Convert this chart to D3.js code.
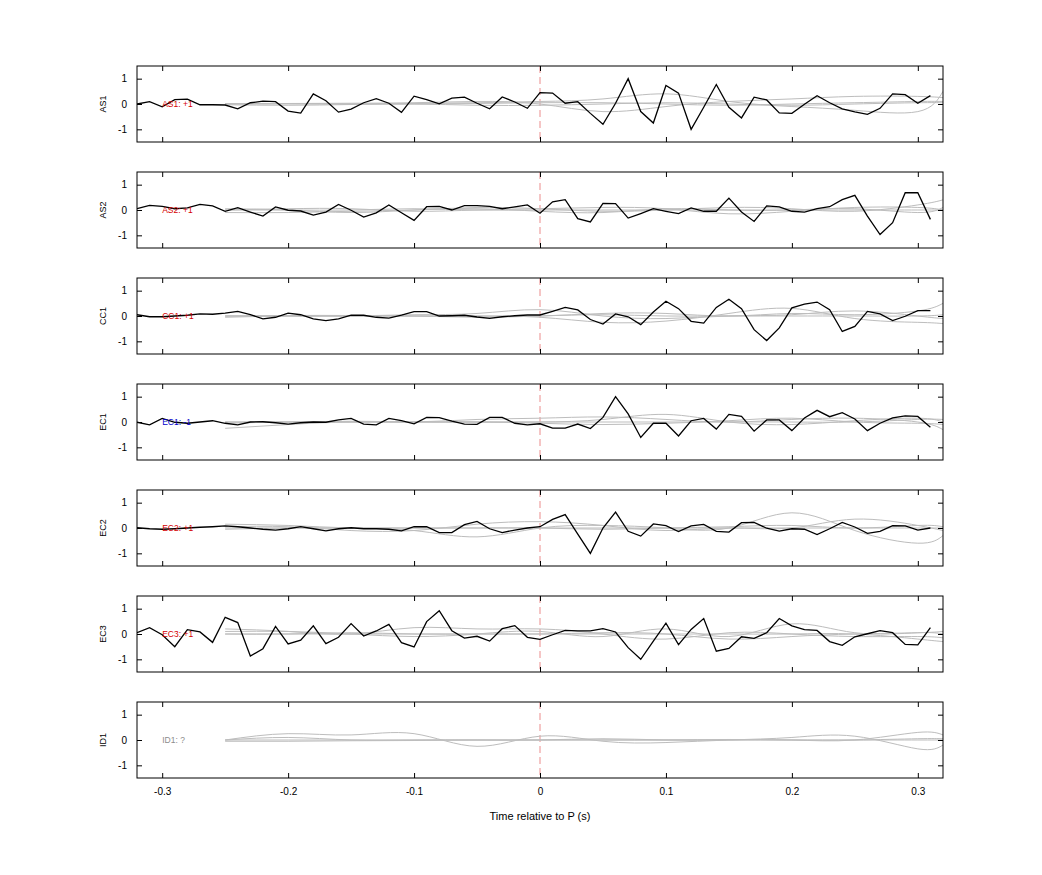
<!DOCTYPE html>
<html>
<head>
<meta charset="utf-8">
<script src="https://cdn.jsdelivr.net/npm/d3@7"></script>
<style>
  body { margin: 0; background: #fff; }
  text { font-family: "Liberation Sans", Arial, sans-serif; }
</style>
</head>
<body>
<svg id="chart" width="1042" height="875"></svg>
<script>
const stations = ['AS1', 'AS2', 'CC1', 'EC1', 'EC2', 'EC3', 'ID1'];
const polarity = ['+1', '+1', '+1', '-1', '+1', '+1', '?'];
const xTicks = [-0.3, -0.2, -0.1, 0, 0.1, 0.2, 0.3];
const yTicks = [-1, 0, 1];

// black traces: one sample every 0.01 s from -0.32 to 0.31
const traceTimes = d3.range(64).map(i => +(-0.32 + i * 0.01).toFixed(2));
const AS1 = [0,0.09,-0.11,0.17,0.19,-0.03,-0.03,-0.04,-0.19,0.05,0.11,0.09,-0.28,-0.36,0.4,0.13,-0.32,-0.2,0.05,0.21,0.03,-0.33,0.31,0.17,0.01,0.23,0.27,0.03,-0.19,0.28,0.08,-0.17,0.45,0.43,0.03,0.09,-0.37,-0.8,0.03,1.0,-0.3,-0.75,0.73,0.43,-1.0,-0.13,0.77,-0.13,-0.55,0.27,0.16,-0.35,-0.37,-0.01,0.33,0.05,-0.19,-0.31,-0.41,-0.17,0.4,0.37,0.03,0.33];
const AS2 = [.05,.18,.14,.05,.08,.22,.16,-.05,.09,-.08,-.24,.12,-.01,-.04,-.2,-.08,.22,-.01,-.28,-.11,.2,-.11,-.41,.13,.14,0,.17,.17,.14,.05,.12,.2,-.13,.32,.41,-.34,-.47,.26,.25,-.32,-.14,.05,-.05,-.14,.08,-.05,-.05,.47,-.08,-.45,.16,.12,-.05,-.08,.05,.13,.41,.58,-.24,-.97,-.5,.68,.68,-.37];
const CC1 = [.05,-.03,-.03,0,.03,.08,.07,.11,.18,.05,-.11,-.05,.11,.05,-.11,-.18,-.11,.03,.03,-.05,-.08,.03,.17,.17,0,.01,.03,-.04,-.09,-.03,.01,.04,.04,.18,.34,.24,-.14,-.32,.08,-.03,-.34,.16,.58,.29,-.21,-.28,.34,.66,.29,-.54,-.97,-.47,.32,.47,.55,.25,-.61,-.41,.18,.08,-.18,-.01,.21,.21];
const EC1 = [-.01,-.11,.14,-.01,-.05,0,.05,-.05,-.11,0,.01,-.03,-.08,-.03,0,-.01,.08,.14,-.08,-.11,.14,.05,-.07,.18,.17,.03,-.08,-.09,.18,.18,-.05,-.11,-.07,-.24,-.24,-.08,-.26,.18,1.0,.32,-.61,-.05,-.05,-.55,.05,.14,-.28,.3,.22,-.36,.08,.08,-.34,.16,.46,.21,.37,.12,-.34,-.05,.16,.24,.22,-.21];
const EC2 = [.01,-.03,-.05,-.03,0,.03,.05,.08,.05,0,-.05,-.08,-.03,.05,-.03,-.11,-.03,.01,-.03,-.03,-.05,-.11,.05,.05,-.18,-.18,.13,.26,-.03,-.18,-.08,0,.05,.34,.53,-.24,-1.0,0,.63,-.13,-.32,.16,.09,-.14,.08,.14,-.13,-.16,.21,.22,-.01,-.12,-.03,-.05,-.26,-.03,.22,.04,-.21,-.13,.09,.08,-.08,0];
const EC3 = [.05,.25,-.03,-.5,.17,.08,-.33,.66,.45,-.87,-.58,.3,-.39,-.24,.32,-.38,-.13,.41,-.08,.12,.38,-.34,-.51,.49,.92,.13,-.16,-.09,-.28,.21,.33,-.13,-.21,-.03,.14,.12,.12,.21,.08,-.54,-1.0,-.28,.43,-.42,.18,.61,-.68,-.57,-.11,-.17,.05,.61,.32,.17,.14,-.3,-.45,-.11,.01,.13,.05,-.41,-.43,.25];
const ID1 = null;
const traces = [AS1, AS2, CC1, EC1, EC2, EC3, ID1];

// grey background traces, sampled coarsely
const greyTimes = [-0.25,-0.2,-0.15,-0.1,-0.05,0,0.05,0.1,0.15,0.2,0.25,0.3,0.32];
const greyAS1 = [
  [0,0.02,0.03,0.05,0.1,0,-0.3,-0.1,0.1,0.2,0.3,0.3,0.25],
  [0,0,0,0.02,0.05,0.1,0.2,0.4,0.1,-0.1,-0.25,-0.3,0.5],
  [-0.03,-0.05,-0.02,0,-0.05,-0.05,0,0.05,0,-0.05,0,0.05,0.05],
  [0.02,0.02,0,0,0.02,0.05,0.05,0,-0.05,0,0.05,0.1,0.1]];
const greyAS2 = [
  [-0.1,-0.1,-0.05,0,0.1,0.05,-0.05,0,0.1,0.05,-0.05,0.2,0.4],
  [0,0.05,0.05,-0.05,0,0.05,0.1,0.05,-0.15,-0.05,0.1,0.1,0],
  [0.05,0,-0.1,0,0.05,-0.05,-0.1,0.05,0,0,0.05,-0.1,0.1],
  [0,0,0,0.05,0,0,0,0,0,0,0,0,0]];
const greyCC1 = [
  [0,0,0,0.05,0.1,0.25,0,-0.1,0,0.05,0.2,0,-0.1],
  [0,0,0,0,0,-0.05,-0.25,-0.2,0.1,0.3,-0.1,-0.25,-0.3],
  [0,0.02,0.02,0,0,0,0.1,0.1,0,0.1,0.05,0.2,0.5],
  [-0.05,0,0,0,-0.05,0,0.05,0,0,0,0,0,0.05]];
const greyEC1 = [
  [-0.25,-0.1,0,0,0.1,0.15,0.2,0.1,0,0.1,0.15,0,-0.3],
  [-0.05,0,0,0,0,0,0.1,0.3,0,-0.1,0.05,0.15,0],
  [0,0,0,0,0,-0.05,-0.1,-0.05,0.05,0.15,0,-0.05,-0.1],
  [0,0,0.03,0,0,0,0,0,0,0,0,0.1,0.1]];
const greyEC2 = [
  [0.15,0.1,0,-0.1,-0.35,0,0.1,0,0,0.6,-0.1,-0.6,-0.3],
  [0.05,0.05,-0.1,-0.1,0.15,0.25,0.1,-0.1,0,0,0.35,0.1,-0.1],
  [-0.05,0,0,0,0,0,-0.05,0,0.05,0.1,0,0.1,0.05],
  [0,0,0,0,0,0,0,0,0,0,0,0,0]];
const greyEC3 = [
  [0.2,0.1,0,0.25,0.2,0.2,0,-0.2,0.05,0,-0.1,-0.1,-0.15],
  [0.1,0.1,0,-0.1,0,0.1,-0.1,0.2,-0.1,0.4,0.05,0.05,0],
  [0,0,0.05,0,0,0,0.05,0,-0.2,-0.1,0,0.05,0.1],
  [0,0,0,0,0,0,0,0,0,0,0,-0.2,-0.3]];
const greyID1 = [
  [0,0.25,0.2,0.25,-0.25,0.15,-0.05,-0.1,0,0.1,0.15,-0.35,-0.2],
  [0,0.1,0,0,0,0,0.05,0,0,0,0,0.3,0.2],
  [-0.05,-0.05,-0.03,-0.02,0,0,0,0,0,0,0,0,0],
  [0,0,0,0,0,0,0,0,0.02,0,0,0.05,0.05]];
const greys = [greyAS1, greyAS2, greyCC1, greyEC1, greyEC2, greyEC3, greyID1];

const left = 137, right = 943, panelH = 76, firstTop = 66, step = 106;
const svg = d3.select('#chart');
const x = d3.scaleLinear().domain([-0.32, 0.32]).range([left, right]);
const polColor = p => p === '+1' ? '#d40000' : p === '-1' ? '#0000cc' : '#8c8c8c';
const fmt = d => String(d);

stations.forEach((name, k) => {
  const top = firstTop + k * step;
  const y = d3.scaleLinear().domain([-1.5, 1.5]).range([top + panelH, top]);
  const g = svg.append('g');

  const clip = 'clip' + k;
  g.append('clipPath').attr('id', clip).append('rect')
    .attr('x', left).attr('y', top).attr('width', right - left).attr('height', panelH);
  const plot = g.append('g').attr('clip-path', `url(#${clip})`);

  // zero-time marker
  plot.append('line')
    .attr('x1', x(0)).attr('x2', x(0)).attr('y1', top).attr('y2', top + panelH)
    .attr('stroke', '#eb8c8c').attr('stroke-dasharray', '7,4').attr('stroke-width', 1);

  const greyLine = d3.line().x((d, i) => x(greyTimes[i])).y(d => y(d)).curve(d3.curveNatural);
  greys[k].forEach(s => {
    plot.append('path').attr('d', greyLine(s))
      .attr('fill', 'none').attr('stroke', '#bdbdbd').attr('stroke-width', 1);
  });

  if (traces[k]) {
    const line = d3.line().x((d, i) => x(traceTimes[i])).y(d => y(d));
    plot.append('path').attr('d', line(traces[k]))
      .attr('fill', 'none').attr('stroke', '#000').attr('stroke-width', 1.3);
  }

  plot.append('text').attr('x', x(-0.3)).attr('y', y(0) + 3)
    .attr('font-size', 8.5).attr('fill', polColor(polarity[k]))
    .text(`${name}: ${polarity[k]}`);

  // axes with inward ticks, mirrored
  const tk = 5;
  g.append('g').attr('transform', `translate(0,${top + panelH})`)
    .call(d3.axisBottom(x).tickValues(xTicks).tickSizeInner(-tk).tickSizeOuter(0)
      .tickFormat(k === stations.length - 1 ? fmt : ''))
    .call(a => a.select('.domain').remove())
    .call(a => a.selectAll('text').attr('dy', 14).attr('font-size', 10).attr('font-family', 'Liberation Sans, Arial'));
  g.append('g').attr('transform', `translate(0,${top})`)
    .call(d3.axisTop(x).tickValues(xTicks).tickSizeInner(-tk).tickSizeOuter(0).tickFormat(''))
    .call(a => a.select('.domain').remove());
  g.append('g').attr('transform', `translate(${left},0)`)
    .call(d3.axisLeft(y).tickValues(yTicks).tickSizeInner(-tk).tickSizeOuter(0).tickFormat(fmt))
    .call(a => a.select('.domain').remove())
    .call(a => a.selectAll('text').attr('x', -10).attr('font-size', 10).attr('font-family', 'Liberation Sans, Arial'));
  g.append('g').attr('transform', `translate(${right},0)`)
    .call(d3.axisRight(y).tickValues(yTicks).tickSizeInner(-tk).tickSizeOuter(0).tickFormat(''))
    .call(a => a.select('.domain').remove());
  g.selectAll('.tick line').attr('stroke', '#000');

  g.append('rect').attr('x', left).attr('y', top).attr('width', right - left).attr('height', panelH)
    .attr('fill', 'none').attr('stroke', '#000').attr('stroke-width', 1);

  g.append('text').attr('transform', `translate(106,${y(0)}) rotate(-90)`)
    .attr('text-anchor', 'middle').attr('font-size', 9).text(name);
});

svg.append('text').attr('x', x(0)).attr('y', 820).attr('text-anchor', 'middle')
  .attr('font-size', 11).text('Time relative to P (s)');
</script>
</body>
</html>
